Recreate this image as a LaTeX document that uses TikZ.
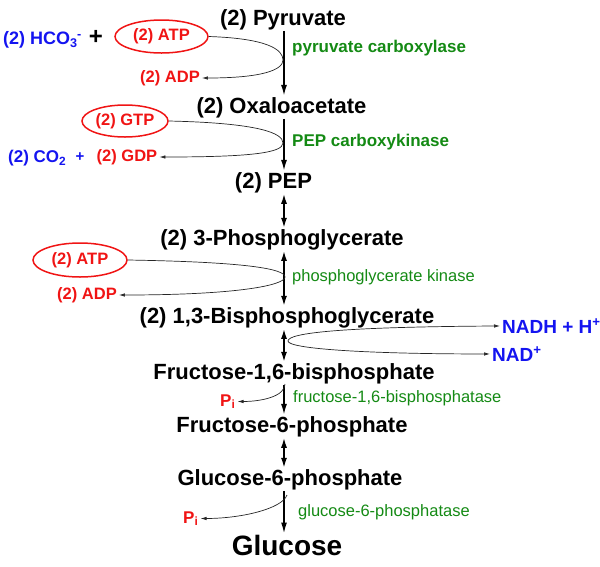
\documentclass[tikz,border=0pt]{standalone}
\usepackage{fontspec}
\setmainfont{Liberation Sans}
\usepackage{tikz}
\usetikzlibrary{arrows.meta,shapes.geometric}
\definecolor{enzc}{HTML}{148A14}
\definecolor{cofc}{HTML}{F01414}
\definecolor{ionc}{HTML}{1414F0}

\begin{document}
\begin{tikzpicture}[x=1pt, y=1pt,
  metab/.style={font=\fontsize{22}{24}\selectfont\bfseries, inner sep=1pt, anchor=base},
  enz/.style={font=\fontsize{16.5}{18}\selectfont, text=enzc, anchor=west, inner sep=0pt},
  cof/.style={font=\fontsize{16.5}{18}\selectfont\bfseries, text=cofc, inner sep=2pt},
  ntp/.style={cof, ellipse, draw=cofc, line width=1.5pt, inner sep=0pt},
  ion/.style={font=\fontsize{18}{20}\selectfont\bfseries, text=ionc, inner sep=2pt},
  onearr/.style={-{Latex[length=11pt,width=6pt]}, line width=1.6pt},
  twoarr/.style={{Latex[length=10pt,width=6pt]}-{Latex[length=10pt,width=6pt]}, line width=1.6pt},
  cofarr/.style={-{Latex[length=6pt,width=3.5pt]}, line width=0.7pt, draw=black!85}]
  \useasboundingbox (0,0) rectangle (600,-566);
  \coordinate (ax) at (284,0);

  \node[metab] (pyr) at (283,-25) {(2) Pyruvate};
  \node[metab] (oaa) at (281.5,-113) {(2) Oxaloacetate};
  \node[metab] (pep) at (273.5,-188) {(2) PEP};
  \node[metab] (pga) at (282,-245) {(2) 3-Phosphoglycerate};
  \node[metab] (bpg) at (287,-323) {(2) 1,3-Bisphosphoglycerate};
  \node[metab] (fbp) at (294,-379) {Fructose-1,6-bisphosphate};
  \node[metab] (fsp) at (292,-432) {Fructose-6-phosphate};
  \node[metab] (gsp) at (290,-485) {Glucose-6-phosphate};
  \node[metab, font=\fontsize{28}{30}\selectfont\bfseries] (glc) at (287,-555) {Glucose};

  \draw[onearr] (pyr.south -| ax) -- (oaa.north -| ax);
  \draw[onearr] (oaa.south -| ax) -- (pep.north -| ax);
  \draw[twoarr] (pep.south -| ax) -- (pga.north -| ax);
  \draw[twoarr] (pga.south -| ax) -- (bpg.north -| ax);
  \draw[twoarr] (bpg.south -| ax) -- (fbp.north -| ax);
  \draw[onearr] (fbp.south -| ax) -- (fsp.north -| ax);
  \draw[twoarr] (fsp.south -| ax) -- (gsp.north -| ax);
  \draw[onearr] (gsp.south -| ax) -- (glc.north -| ax);

  \node[enz, font=\fontsize{17}{18}\selectfont\bfseries] (pc) at (292,-48) {pyruvate carboxylase};
  \node[enz, font=\fontsize{17}{18}\selectfont\bfseries] (pepck) at (292,-142) {PEP carboxykinase};
  \node[enz] (pgk) at (292,-277) {phosphoglycerate kinase};
  \node[enz] (fbpase) at (293,-398) {fructose-1,6-bisphosphatase};
  \node[enz] (gpase) at (298,-512) {glucose-6-phosphatase};

  \node[ion, anchor=base west] (hco) at (1,-44.5) {(2) HCO\textsubscript{3}\kern-0.5pt\textsuperscript{-}};
  \node[font=\fontsize{24}{24}\selectfont\bfseries] (plusa) at (96,-37) {+};
  \node[ntp, minimum width=93pt, minimum height=33pt] (atpa) at (161.5,-36.5) {(2) ATP};
  \node[cof] (adpa) at (170,-78) {(2) ADP};
  \node[ntp, minimum width=86pt, minimum height=32pt] (gtp) at (125,-121) {(2) GTP};
  \node[ion, font=\fontsize{17}{18}\selectfont\bfseries, anchor=base west] (co2) at (6,-162.5) {(2) CO\textsubscript{2}};
  \node[ion, font=\fontsize{15}{16}\selectfont\bfseries] (plusb) at (80,-157) {+};
  \node[cof] (gdp) at (127,-157) {(2) GDP};
  \node[ntp, minimum width=94pt, minimum height=34pt] (atpc) at (80,-260) {(2) ATP};
  \node[cof] (adpc) at (87,-295) {(2) ADP};
  \node[ion, font=\fontsize{19}{20}\selectfont\bfseries, anchor=base west] (nadh) at (500,-333) {NADH + H\textsuperscript{+}};
  \node[ion, font=\fontsize{19}{20}\selectfont\bfseries, anchor=base west] (nad) at (490,-361) {NAD\textsuperscript{+}};
  \node[cof, font=\fontsize{17}{18}\selectfont\bfseries, anchor=base west] (pia) at (218,-406) {P\textsubscript{i}};
  \node[cof, font=\fontsize{17}{18}\selectfont\bfseries, anchor=base west] (pib) at (181,-523) {P\textsubscript{i}};

  \coordinate (ta) at (283,-60);
  \coordinate (tb) at (283,-143);
  \coordinate (tc) at (285,-277);
  \coordinate (td) at (288,-341);
  \coordinate (sa) at (285,-384);
  \coordinate (sb) at (287,-495);

  \draw[cofarr] (atpa.east) .. controls +(60,-2) and +(0,10) .. (ta) .. controls +(0,-10) and +(60,0) .. (adpa.east);
  \draw[cofarr] (gtp.east) .. controls +(90,-2) and +(0,10) .. (tb) .. controls +(0,-10) and +(90,0) .. (gdp.east);
  \draw[cofarr] (atpc.east) .. controls +(120,-2) and +(0,8) .. (tc) .. controls +(0,-8) and +(120,0) .. (adpc.east);
  \draw[cofarr, {Latex[length=6pt,width=3.5pt]}-{Latex[length=6pt,width=3.5pt]}] (nadh.west) .. controls +(-160,-1) and +(0,8) .. (td) .. controls +(0,-8) and +(-120,0) .. (nad.west);
  \draw[cofarr] (sa) .. controls +(0,-12) and +(25,0) .. (pia.east);
  \draw[cofarr] (sb) .. controls +(-5,-14) and +(40,0) .. (pib.east);
\end{tikzpicture}
\end{document}
